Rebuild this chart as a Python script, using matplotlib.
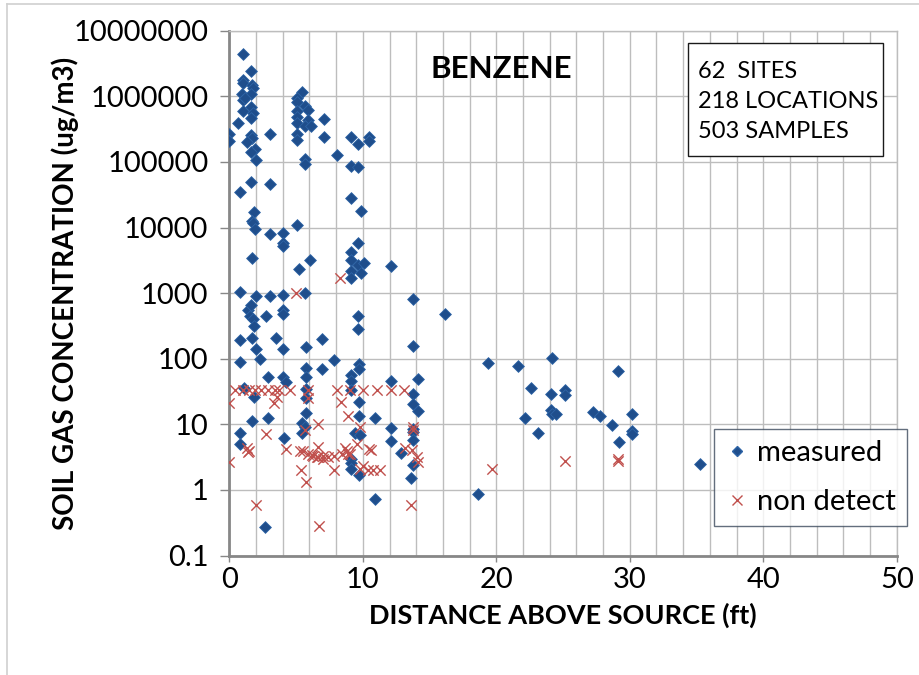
import matplotlib
matplotlib.use("Agg")
import matplotlib.pyplot as plt
from matplotlib.lines import Line2D
from matplotlib.patches import Rectangle
from matplotlib.ticker import FixedLocator, FixedFormatter, MultipleLocator, NullLocator

plt.rcParams['font.family'] = ['Lato', 'DejaVu Sans']

# Detected benzene soil-gas concentrations (ug/m3) vs distance above source (ft)
measured_x = [
    1.0, 1.65, 1.0, 1.05, 1.7, 1.8, 0.95, 1.65, 1.0, 1.2, 1.6, 1.0, 1.8, 1.65, 0.65,
    0.0, 0.0, 3.07, 1.65, 1.7, 1.33, 1.9, 1.65, 2.0, 1.65, 3.07, 0.82, 1.83, 1.7, 1.75,
    1.9, 3.07, 4.0, 4.0, 4.05, 1.7, 0.82, 2.0, 3.07, 4.0,
    1.4, 1.6, 1.55, 1.75, 2.77, 4.0, 4.0, 1.87, 0.82, 1.7, 3.5, 2.0, 4.0, 2.27, 0.82,
    2.9, 4.0, 4.25, 1.08, 1.88, 1.7, 2.9, 0.82, 0.82, 4.07, 2.7,
    5.47, 5.05, 5.05, 5.67, 5.87, 5.05, 5.05, 5.87, 5.05, 5.67, 6.12, 7.12, 5.05, 5.05,
    7.12, 5.67, 5.67, 5.05, 5.25, 6.05, 5.67, 5.72, 6.92, 5.72, 6.92, 5.72, 5.72, 5.72,
    5.72, 5.42, 5.67, 5.42, 7.87,
    8.05, 9.1, 9.67, 10.5, 10.5, 9.1, 9.67, 9.1, 9.87, 9.67, 9.1, 9.1, 9.67, 10.1, 9.1,
    9.87, 9.1, 9.67, 9.67, 9.72, 9.72, 9.1, 9.1, 9.1, 9.72, 9.72, 10.9, 9.42, 9.8, 9.1,
    9.1, 9.1, 9.75, 10.9,
    12.1, 13.74, 16.16, 13.74, 12.1, 14.17, 13.74, 13.74, 14.17, 12.1, 13.74, 13.74,
    12.1, 13.74, 12.86, 13.74, 13.59,
    19.4, 21.65, 24.15, 29.1, 22.58, 24.07, 25.15, 25.15, 22.15, 24.07, 24.15, 24.47,
    27.27, 27.77, 28.7, 30.2, 30.2, 30.2, 23.15, 29.2, 18.65, 35.25,
]
measured_y = [
    4.5e6, 2.4e6, 1.8e6, 1.6e6, 1.5e6, 1.35e6, 1.1e6, 1.1e6, 8.7e5, 9.5e5, 7.0e5, 6.0e5,
    5.6e5, 4.7e5, 3.9e5, 2.7e5, 2.1e5, 2.7e5, 2.6e5, 2.3e5, 2.0e5, 1.6e5, 1.4e5, 1.07e5,
    4.9e4, 4.6e4, 3.5e4, 1.7e4, 1.26e4, 1.17e4, 9.4e3, 7.9e3, 8.4e3, 5.8e3, 5.2e3, 3.4e3,
    1050, 910, 910, 940,
    550, 650, 450, 400, 450, 550, 480, 316, 195, 205, 205, 142, 142, 98, 90,
    52, 52, 45, 35.5, 26, 11.3, 12.4, 7.5, 5.0, 6.3, 0.27,
    1.18e6, 9.5e5, 8.3e5, 7.1e5, 6.2e5, 5.9e5, 4.9e5, 4.4e5, 3.9e5, 3.5e5, 3.6e5, 4.5e5,
    2.7e5, 2.2e5, 2.4e5, 1.1e5, 9.2e4, 1.1e4, 2.3e3, 3.2e3, 1000, 150, 200, 73, 69, 52,
    35, 25, 15, 10.4, 9.2, 7.5, 96,
    1.28e5, 2.4e5, 1.86e5, 2.4e5, 2.1e5, 8.7e4, 8.5e4, 2.8e4, 1.78e4, 5.9e3, 4.3e3, 3.2e3,
    2.7e3, 2.9e3, 2.2e3, 2.0e3, 1.7e3, 450, 280, 83, 69, 57, 46, 34, 22, 13.4, 12.4, 7.3,
    6.9, 3.0, 2.6, 2.1, 1.7, 0.72,
    2.6e3, 830, 480, 158, 46, 50, 29, 20.5, 16.2, 8.9, 8.4, 7.7, 5.6, 5.8, 3.7, 2.4, 1.54,
    85, 78, 102, 66, 35.5, 29, 33, 28, 12.4, 16.6, 14.4, 14.3, 15.3, 13.4, 9.8, 14.4,
    7.8, 7.1, 7.3, 5.3, 0.87, 2.5,
]

# Non-detects, plotted at the reporting limit
nondetect_x = [
    0.45, 1.0, 1.45, 1.95, 2.4, 2.9, 3.45, 3.75, 4.57, 5.87, 8.05, 9.04, 10.04, 11.04,
    12.1, 13.1,
    0.0, 3.33, 3.57, 2.75, 1.36, 1.45, 1.4, 4.25, 0.0, 2.0, 5.0, 8.3, 5.87, 8.37, 8.87,
    6.62, 5.67, 9.8, 9.55, 10.6,
    5.3, 5.55, 5.92, 6.3, 6.67, 7.05, 7.42, 7.87, 8.42, 8.8, 9.04, 6.17, 6.55, 7.05,
    8.67, 8.92, 6.67, 5.37, 5.72, 7.87, 10.04, 10.4, 10.8, 11.3, 9.8, 6.72, 10.5,
    13.74, 13.74, 13.16, 13.66, 14.04, 14.17, 13.59, 25.15, 29.14, 29.14, 19.66,
]
nondetect_y = [
    33, 33, 33, 33, 33, 33, 33, 33, 33, 33, 33, 33, 33, 33, 33, 33,
    21, 21, 26, 7.1, 4.4, 4.0, 3.8, 4.2, 2.7, 0.59, 1000, 1700, 25, 22, 13.4,
    10, 8.2, 9.2, 5.1, 4.1,
    4.0, 3.9, 3.6, 3.3, 3.2, 3.3, 3.2, 3.3, 3.6, 4.0, 3.5, 3.4, 3.2, 3.0,
    4.3, 3.6, 4.6, 2.0, 1.34, 2.0, 2.3, 2.0, 2.0, 2.0, 2.1, 0.28, 4.2,
    9.2, 8.2, 4.3, 4.1, 3.2, 2.7, 0.59, 2.8, 3.0, 2.8, 2.07,
]

y_ticks = [0.1, 1, 10, 100, 1000, 10000, 100000, 1000000, 10000000]
y_tick_labels = ["0.1", "1", "10", "100", "1000", "10000", "100000", "1000000", "10000000"]
x_ticks = [0, 10, 20, 30, 40, 50]
info_lines = ["62  SITES", "218 LOCATIONS", "503 SAMPLES"]

W, H = 920, 675
fig = plt.figure(figsize=(W / 100, H / 100), dpi=100)


def fx(px):
    return px / W


def fy(py):
    return 1 - py / H


ax = fig.add_axes([fx(229.3), fy(555.6), fx(896.8) - fx(229.3), fy(30.8) - fy(555.6)])

ax.scatter(measured_x, measured_y, marker='D', s=36, color='#1f4e8c',
           edgecolors='#2e64a6', linewidths=0.6, zorder=3)
ax.scatter(nondetect_x, nondetect_y, marker='x', s=55, color='#c0504d',
           linewidths=1.0, zorder=4)

ax.set_yscale('log')
ax.set_xlim(0, 50)
ax.set_ylim(0.1, 1e7)

ax.yaxis.set_major_locator(FixedLocator(y_ticks))
ax.yaxis.set_major_formatter(FixedFormatter(y_tick_labels))
ax.yaxis.set_minor_locator(NullLocator())
ax.xaxis.set_major_locator(FixedLocator(x_ticks))
ax.xaxis.set_minor_locator(MultipleLocator(2))

grid_c = '#bdbdbd'
ax.grid(True, which='major', axis='y', color=grid_c, linewidth=1.0)
ax.grid(True, which='both', axis='x', color=grid_c, linewidth=1.0)
ax.set_axisbelow(True)

for side in ('top', 'right'):
    ax.spines[side].set_color(grid_c)
    ax.spines[side].set_linewidth(1.0)
for side in ('left', 'bottom'):
    ax.spines[side].set_color('#878787')
    ax.spines[side].set_linewidth(2.0)

ax.tick_params(axis='y', which='major', direction='out', length=6.5, width=1,
               color='#878787', pad=8.5, labelsize=21)
ax.tick_params(axis='x', which='major', direction='out', length=4.5, width=1,
               color='#878787', pad=4, labelsize=21)
ax.tick_params(axis='x', which='minor', length=0)

ax.set_xlabel("DISTANCE ABOVE SOURCE (ft)", fontsize=19.5, fontweight='bold', labelpad=7)
ax.set_ylabel("SOIL GAS CONCENTRATION (ug/m3)", fontsize=20, fontweight='bold', labelpad=-4)

fig.text(fx(501), fy(69), "BENZENE", fontsize=22.5, fontweight='bold',
         ha='center', va='center')

# Summary box
fig.add_artist(Rectangle((fx(688), fy(156)), fx(883) - fx(688), fy(43) - fy(156),
                         transform=fig.transFigure, facecolor='white',
                         edgecolor='#1a1a1a', linewidth=1.0, zorder=5))
for i, line in enumerate(info_lines):
    fig.text(fx(698), fy(71 + 30 * i), line, fontsize=17, ha='left', va='center',
             zorder=6)

handles = [
    Line2D([], [], linestyle='none', marker='D', markersize=5.5, color='#1f4e8c',
           markeredgecolor='#2e64a6', label='measured'),
    Line2D([], [], linestyle='none', marker='x', markersize=7, color='#c0504d',
           markeredgewidth=1.0, label='non detect'),
]
leg = fig.legend(handles=handles, loc='upper left',
                 bbox_to_anchor=(fx(714.3), fy(429.3)), bbox_transform=fig.transFigure,
                 fontsize=21, frameon=True, fancybox=False, borderpad=0.38,
                 handlelength=0.8, handletextpad=0.3, labelspacing=0.78,
                 borderaxespad=0)
leg.get_frame().set_edgecolor('#3c4a5c')
leg.get_frame().set_linewidth(1.0)

# Chart-area border
fig.add_artist(Line2D([fx(7), fx(7)], [fy(4), 0], transform=fig.transFigure,
                      color='#d0d0d0', linewidth=1.2))
fig.add_artist(Line2D([fx(7), 1], [fy(4), fy(4)], transform=fig.transFigure,
                      color='#d0d0d0', linewidth=1.2))

fig.savefig("out.png", dpi=100)
